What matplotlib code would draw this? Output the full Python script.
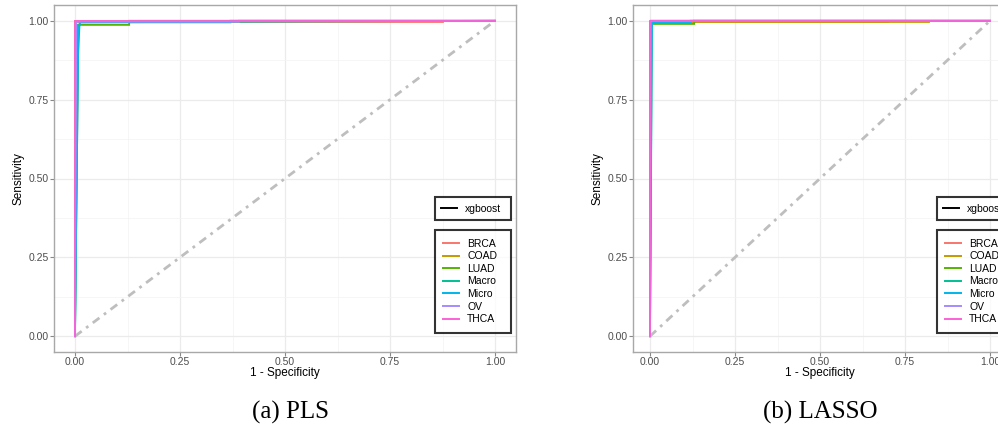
import matplotlib
matplotlib.use("Agg")
import matplotlib.pyplot as plt
from matplotlib.lines import Line2D

classes = ["BRCA", "COAD", "LUAD", "Macro", "Micro", "OV", "THCA"]
colors = ["#F8766D", "#C49A00", "#53B400", "#00C094", "#00B6EB", "#A58AFF", "#FB61D7"]

# PLS panel ROC curves (1 - specificity, sensitivity)
pls_fpr = {
    "BRCA": [0, 0.0, 0.875, 0.875, 1],
    "COAD": [0, 0.0, 1],
    "LUAD": [0, 0.007, 0.007, 0.129, 0.129, 1],
    "Macro": [0, 0.006, 0.011, 1],
    "Micro": [0, 0.008, 0.012, 0.37, 0.37, 1],
    "OV": [0, 0.003, 0.39, 0.39, 1],
    "THCA": [0, 0.0, 1],
}
pls_tpr = {
    "BRCA": [0, 0.997, 0.997, 1, 1],
    "COAD": [0, 1, 1],
    "LUAD": [0, 0.85, 0.987, 0.987, 1, 1],
    "Macro": [0, 0.85, 0.995, 1],
    "Micro": [0, 0.97, 0.995, 0.995, 1, 1],
    "OV": [0, 0.997, 0.997, 1, 1],
    "THCA": [0, 1, 1],
}

# LASSO panel ROC curves
lasso_fpr = {
    "BRCA": [0, 0.0, 0.70, 0.70, 1],
    "COAD": [0, 0.0, 0.82, 0.82, 1],
    "LUAD": [0, 0.005, 0.005, 0.13, 0.13, 1],
    "Macro": [0, 0.004, 1],
    "Micro": [0, 0.006, 0.12, 0.12, 1],
    "OV": [0, 0.002, 1],
    "THCA": [0, 0.0, 1],
}
lasso_tpr = {
    "BRCA": [0, 0.997, 0.997, 1, 1],
    "COAD": [0, 0.997, 0.997, 1, 1],
    "LUAD": [0, 0.9, 0.99, 0.99, 1, 1],
    "Macro": [0, 1, 1],
    "Micro": [0, 0.995, 0.995, 1, 1],
    "OV": [0, 1, 1],
    "THCA": [0, 1, 1],
}

ticks = [0.0, 0.25, 0.5, 0.75, 1.0]
tick_labels = ["0.00", "0.25", "0.50", "0.75", "1.00"]
model_name = "xgboost"
captions = ["(a) PLS", "(b) LASSO"]

plt.rcParams['font.family'] = ['Liberation Sans', 'DejaVu Sans']

fig = plt.figure(figsize=(9.98, 4.30), dpi=100)
W, H = 998, 430

def make_ax(left_px, right_px, top_px, bottom_px):
    return fig.add_axes([left_px / W, 1 - bottom_px / H,
                         (right_px - left_px) / W, (bottom_px - top_px) / H])

ax1 = make_ax(54, 516, 5, 352)
ax2 = make_ax(633, 1007, 5, 352)

def add_legends(ax, x0_px, x1_px, box1, box2):
    inv = fig.transFigure
    h1 = [Line2D([0], [0], color="black", lw=1.4)]
    lg1 = ax.legend(h1, [model_name], loc="center", frameon=True, fontsize=7.5,
                    handlelength=1.5, handletextpad=0.8, borderpad=0.6, fancybox=False,
                    bbox_to_anchor=(x0_px / W, 1 - box1[1] / H, (x1_px - x0_px) / W, (box1[1] - box1[0]) / H),
                    bbox_transform=inv, mode="expand", borderaxespad=0)
    lg1.get_frame().set_edgecolor("black")
    lg1.get_frame().set_linewidth(1.5)
    ax.add_artist(lg1)
    h2 = [Line2D([0], [0], color=c, lw=1.4) for c in colors]
    lg2 = ax.legend(h2, classes, loc="center", frameon=True, fontsize=7.5,
                    handlelength=1.5, handletextpad=0.8, borderpad=0.8, labelspacing=0.25,
                    fancybox=False,
                    bbox_to_anchor=(x0_px / W, 1 - box2[1] / H, (x1_px - x0_px) / W, (box2[1] - box2[0]) / H),
                    bbox_transform=inv, mode="expand", borderaxespad=0)
    lg2.get_frame().set_edgecolor("black")
    lg2.get_frame().set_linewidth(1.5)

def base(ax, fpr, tpr):
    ax.set_xlim(-0.05, 1.05)
    ax.set_ylim(-0.05, 1.05)
    ax.set_xticks(ticks)
    ax.set_xticklabels(tick_labels)
    ax.set_yticks(ticks)
    ax.set_yticklabels(tick_labels)
    ax.set_xticks([0.125, 0.375, 0.625, 0.875], minor=True)
    ax.set_yticks([0.125, 0.375, 0.625, 0.875], minor=True)
    ax.grid(which="major", color="#EBEBEB", lw=0.9)
    ax.grid(which="minor", color="#F3F3F3", lw=0.5)
    ax.set_axisbelow(True)
    ax.tick_params(which="major", length=3, width=0.8, color="#888888",
                   labelcolor="#4D4D4D", labelsize=7.5, pad=0.8)
    ax.tick_params(which="minor", length=0)
    for s in ax.spines.values():
        s.set_color("#A8A8A8")
        s.set_linewidth(1.0)
    ax.plot([0, 1], [0, 1], color="#BEBEBE", lw=2.0, ls=(0, (3, 2, 1, 2)), zorder=2)
    for c, col in zip(classes, colors):
        ax.plot(fpr[c], tpr[c], color=col, lw=1.3, zorder=3, solid_joinstyle="miter")
    ax.set_xlabel("1 - Specificity", fontsize=8.5, labelpad=0)
    ax.set_ylabel("Sensitivity", fontsize=8.5, labelpad=3)

base(ax1, pls_fpr, pls_tpr)
base(ax2, lasso_fpr, lasso_tpr)
add_legends(ax1, 435, 511, (195, 222), (229, 334))
add_legends(ax2, 937, 1013, (195, 222), (229, 334))

fig.text(290 / W, 1 - 412 / H, captions[0], ha="center", va="center",
         fontsize=18, family="Liberation Serif")
fig.text(820 / W, 1 - 412 / H, captions[1], ha="center", va="center",
         fontsize=18, family="Liberation Serif")

fig.savefig("out.png", dpi=100)
